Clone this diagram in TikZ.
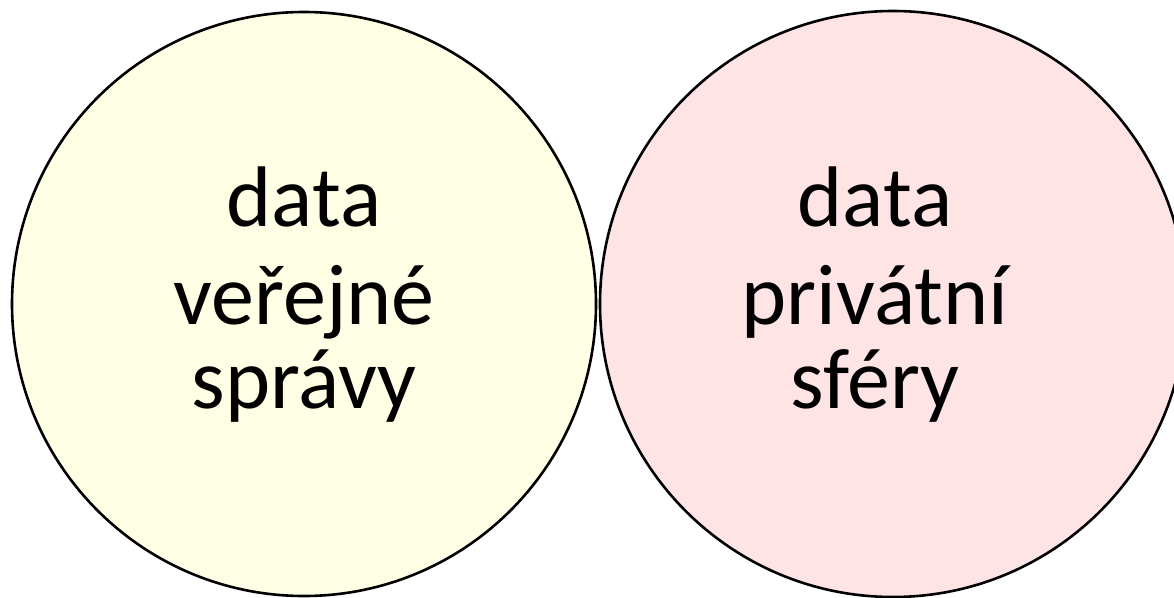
\documentclass[tikz,border=0pt]{standalone}
\usepackage{fontspec}
\setmainfont{Carlito}
\definecolor{pubfill}{RGB}{255,255,229}
\definecolor{privfill}{RGB}{255,228,230}
\begin{document}
\begin{tikzpicture}[x=1pt,y=-1pt,
  sphere/.style={draw=black,line width=2.6pt},
  lbl/.style={align=center,inner sep=0pt,font=\fontsize{86}{100}\selectfont}]
\useasboundingbox (0,0) rectangle (1174,597);
\clip (0,0) rectangle (1174,597);
\draw[sphere,fill=pubfill] (304,304) circle[radius=292] coordinate (pubc);
\draw[sphere,fill=privfill] (893,304) circle[radius=293] coordinate (privc);
\node[lbl,anchor=base] (pub1) at (304,226) {data};
\node[lbl,anchor=base] (pub2) at (304,324) {veřejné};
\node[lbl,anchor=base] (pub3) at (304,408) {správy};
\node[lbl,anchor=base] (priv1) at (875,226) {data};
\node[lbl,anchor=base] (priv2) at (875,324) {privátní};
\node[lbl,anchor=base] (priv3) at (875,408) {sféry};
\end{tikzpicture}
\end{document}
